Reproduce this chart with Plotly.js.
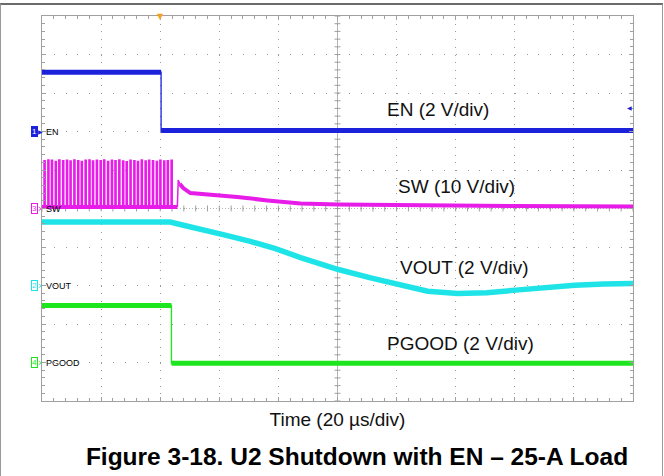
<!DOCTYPE html>
<html><head><meta charset="utf-8">
<script src="https://cdn.plot.ly/plotly-3.0.1.min.js"></script>
<style>
html,body{margin:0;padding:0;background:#fff;}
#wrap{position:relative;width:664px;height:476px;overflow:hidden;}
#chart{width:664px;height:476px;}
#frame{position:absolute;left:0;top:3px;width:661px;height:473px;border-top:2px solid #6b6b6b;border-left:1px solid #9a9a9a;border-right:1px solid #9a9a9a;pointer-events:none;}
</style></head>
<body><div id="wrap"><div id="chart"></div><div id="frame"></div></div>
<script>
// Time in µs (20 µs/div), trigger at t = 0. Voltages in volts.
const enTime = [-40, 0.3, 0.3, 160];
const enVolt = [3.08, 3.08, 0.05, 0.05];

const swPulseTime = [-39.3, -38.0, -36.8, -35.5, -34.3, -33.0, -31.7, -30.5, -29.2, -27.9, -26.7, -25.4, -24.1, -22.9, -21.6, -20.3, -19.1, -17.8, -16.5, -15.3, -14.0, -12.7, -11.5, -10.2, -8.9, -7.7, -6.4, -5.1, -3.9, -2.6, -1.3, -0.1, 1.2, 2.4, 3.7];
const swPulsePeak = [12.4, 12.6, 12.5, 12.2, 12.6, 12.4, 12.5, 12.3, 12.6, 12.4, 12.2, 12.5, 12.6, 12.3, 12.5, 12.4, 12.6, 12.2, 12.5, 12.4, 12.6, 12.3, 12.1, 12.5, 12.4, 12.2, 12.6, 12.3, 12.5, 12.4, 12.2, 12.5, 12.3, 12.4, 12.5];
const swBaseTime = [-40, 5.8];
const swBaseVolt = [0.4, 0.4];
const swTailTime = [5.8, 6.1, 6.6, 7.8, 10.2, 13.6, 19.3, 26.1, 36.3, 47.5, 60.3, 80, 100, 120, 140, 160];
const swTailVolt = [0.4, 7.4, 6.4, 5.3, 4.0, 3.8, 3.6, 3.0, 2.1, 1.3, 1.05, 0.85, 0.75, 0.65, 0.58, 0.52];

const voutTime = [-40, 3.4, 6.8, 13.6, 22.0, 30.5, 39.0, 47.5, 60.3, 71.2, 80.3, 90.5, 100.7, 110.5, 120.3, 130.5, 140.3, 150.2, 160];
const voutVolt = [3.30, 3.30, 3.17, 2.94, 2.62, 2.29, 1.92, 1.45, 0.83, 0.40, 0.06, -0.30, -0.42, -0.38, -0.24, -0.09, 0.01, 0.08, 0.11];

const pgTime = [-40, 3.8, 3.8, 160];
const pgVolt = [2.96, 2.96, -0.04, -0.04];

const channelNames = ['EN', 'SW', 'VOUT', 'PGOOD'];
const channelNumbers = ['1', '3', '2', '4'];
const channelLabels = ['EN (2 V/div)', 'SW (10 V/div)', 'VOUT (2 V/div)', 'PGOOD (2 V/div)'];
const xTitle = 'Time (20 µs/div)';
const chartTitle = 'Figure 3-18. U2 Shutdown with EN – 25-A Load';

// ---- scope channel settings (screen offset in divisions, volts per division) ----
const CH = {
  EN:    {offset: 2,  scale: 2,  color: '#1c22dc', band: 5},
  SW:    {offset: 0,  scale: 10, color: '#e81ce8', band: 4},
  VOUT:  {offset: -2, scale: 2,  color: '#1ee4e8', band: 5.5},
  PGOOD: {offset: -4, scale: 2,  color: '#1ee61e', band: 5}
};
const FONT = 'Liberation Sans, Arial, sans-serif';
const L = 42, R = 31, T = 16, B = 75, W = 664, H = 476;
const PW = W - L - R, PH = H - T - B;
const px2paperX = p => (p - L) / PW;
const px2div = p => (H - B - p) / PH * 10 - 5;
const px2time = p => (p - L) / PW * 200 - 40;

function toDiv(ch, v) { return v.map(x => ch.offset + x / ch.scale); }

function bandTraces(t, v, ch) {
  const y = toDiv(ch, v);
  const bx = [], by = [];
  for (let i = 0; i < t.length; i++) {
    if (i > 0 && t[i] === t[i - 1]) { bx.push(null); by.push(null); }
    bx.push(t[i]); by.push(y[i]);
  }
  return [
    {x: t, y: y, mode: 'lines', line: {color: ch.color, width: 1.3}, hoverinfo: 'skip'},
    {x: bx, y: by, mode: 'lines', line: {color: ch.color, width: ch.band}, connectgaps: false, hoverinfo: 'skip'}
  ];
}

// SW pulse train built from the pulse times / peaks
const pw = 0.35;
const spx = [], spy = [];
swPulseTime.forEach((tp, i) => {
  const base = CH.SW.offset + swBaseVolt[0] / CH.SW.scale;
  const pk = CH.SW.offset + swPulsePeak[i] / CH.SW.scale;
  spx.push(tp, tp, tp + pw, tp + pw, null);
  spy.push(base, pk, pk, base, null);
});

const traces = [];
traces.push({x: spx, y: spy, mode: 'lines', line: {color: CH.SW.color, width: 1.6}, connectgaps: false, hoverinfo: 'skip'});
traces.push({x: swBaseTime, y: toDiv(CH.SW, swBaseVolt), mode: 'lines', line: {color: CH.SW.color, width: 4}, hoverinfo: 'skip'});
traces.push({x: swTailTime.slice(0, 3), y: toDiv(CH.SW, swTailVolt.slice(0, 3)), mode: 'lines', line: {color: CH.SW.color, width: 1.5}, hoverinfo: 'skip'});
traces.push({x: swTailTime.slice(2), y: toDiv(CH.SW, swTailVolt.slice(2)), mode: 'lines', line: {color: CH.SW.color, width: 4}, hoverinfo: 'skip'});
traces.push(...bandTraces(voutTime, voutVolt, CH.VOUT));
traces.push(...bandTraces(pgTime, pgVolt, CH.PGOOD));
traces.push(...bandTraces(enTime, enVolt, CH.EN));

// ---- center crosshair with ticks ----
const shapes = [];
const gc = '#a0a0a0';
shapes.push({type: 'line', xref: 'x', yref: 'y', x0: 60, x1: 60, y0: -5, y1: 5, line: {color: '#b4b4b4', width: 1}, layer: 'below'});
shapes.push({type: 'line', xref: 'x', yref: 'y', x0: -40, x1: 160, y0: 0, y1: 0, line: {color: '#b4b4b4', width: 1, dash: '1px,2px'}, layer: 'below'});
for (let k = 0; k <= 50; k++) {
  const tx = -40 + k * 4;
  shapes.push({type: 'line', xref: 'x', yref: 'y', ysizemode: 'pixel', yanchor: 0, x0: tx, x1: tx, y0: -3, y1: 3, line: {color: gc, width: 1}, layer: 'below'});
  const ty = -5 + k * 0.2;
  shapes.push({type: 'line', xref: 'x', yref: 'y', xsizemode: 'pixel', xanchor: 60, y0: ty, y1: ty, x0: -3, x1: 3, line: {color: gc, width: 1}, layer: 'below'});
}

// ---- annotations ----
const ann = [];
const labelPos = [[385, 109], [396, 186], [398, 267], [385, 343]];
channelLabels.forEach((s, i) => {
  ann.push({text: s, xref: 'x', yref: 'y', x: px2time(labelPos[i][0]), y: px2div(labelPos[i][1]), xanchor: 'left', yanchor: 'middle', showarrow: false, font: {family: FONT, size: 19, color: '#111'}});
});
channelNames.forEach((nm, i) => {
  const ch = CH[nm];
  const filled = (nm === 'EN');
  ann.push({text: channelNumbers[i], xref: 'paper', yref: 'y', x: px2paperX(34), y: ch.offset, xanchor: 'center', yanchor: 'middle', showarrow: false,
    font: {family: FONT, size: 8, color: filled ? '#ffffff' : ch.color}, bgcolor: filled ? ch.color : 'rgba(0,0,0,0)', bordercolor: ch.color, borderwidth: 1, borderpad: 0});
  ann.push({text: filled ? '▶' : '›', xref: 'paper', yref: 'y', x: px2paperX(40), y: ch.offset, xanchor: 'center', yanchor: 'middle', showarrow: false,
    font: {family: 'DejaVu Sans', size: filled ? 6 : 10, color: ch.color}});
  ann.push({text: nm, xref: 'paper', yref: 'y', x: px2paperX(44), y: ch.offset, xanchor: 'left', yanchor: 'middle', showarrow: false,
    font: {family: FONT, size: 9, color: '#000'}});
});
ann.push({text: '◀', xref: 'paper', yref: 'y', x: px2paperX(629), y: px2div(107), xanchor: 'center', yanchor: 'middle', showarrow: false, font: {family: 'DejaVu Sans', size: 6, color: CH.EN.color}});
ann.push({text: '▼', xref: 'x', yref: 'paper', x: 0, y: 1, xanchor: 'center', yanchor: 'middle', showarrow: false, font: {family: 'DejaVu Sans', size: 8, color: '#f5a020'}});

const axisCommon = {
  showgrid: true, gridcolor: '#9a9a9a', gridwidth: 1, zeroline: false, showticklabels: false,
  ticks: 'inside', ticklen: 4, tickcolor: gc, showline: true, linecolor: gc, linewidth: 1, mirror: 'ticks', fixedrange: true
};
const layout = {
  width: W, height: H,
  margin: {l: L, r: R, t: T, b: B, pad: 0},
  paper_bgcolor: '#ffffff', plot_bgcolor: '#ffffff',
  showlegend: false, hovermode: false,
  font: {family: FONT, color: '#000'},
  title: {text: '<b>' + chartTitle + '</b>', font: {family: FONT, size: 24.5, color: '#000'},
    xref: 'container', yref: 'container', x: 357 / W, xanchor: 'center', y: 1 - 456 / H, yanchor: 'middle'},
  xaxis: Object.assign({}, axisCommon, {
    range: [-40, 160], tick0: -40, dtick: 20, griddash: '1px,6.7px',
    minor: {tick0: -40, dtick: 4, ticks: 'inside', ticklen: 3, tickcolor: gc, showgrid: false},
    title: {text: xTitle, font: {family: FONT, size: 19, color: '#111'}, standoff: 11}
  }),
  yaxis: Object.assign({}, axisCommon, {
    range: [-5, 5], tick0: -5, dtick: 1, griddash: '1px,10.82px',
    minor: {tick0: -5, dtick: 0.2, ticks: 'inside', ticklen: 3, tickcolor: gc, showgrid: false}
  }),
  shapes: shapes,
  annotations: ann
};
Plotly.newPlot('chart', traces, layout, {staticPlot: true, displayModeBar: false});
</script>
</body></html>
